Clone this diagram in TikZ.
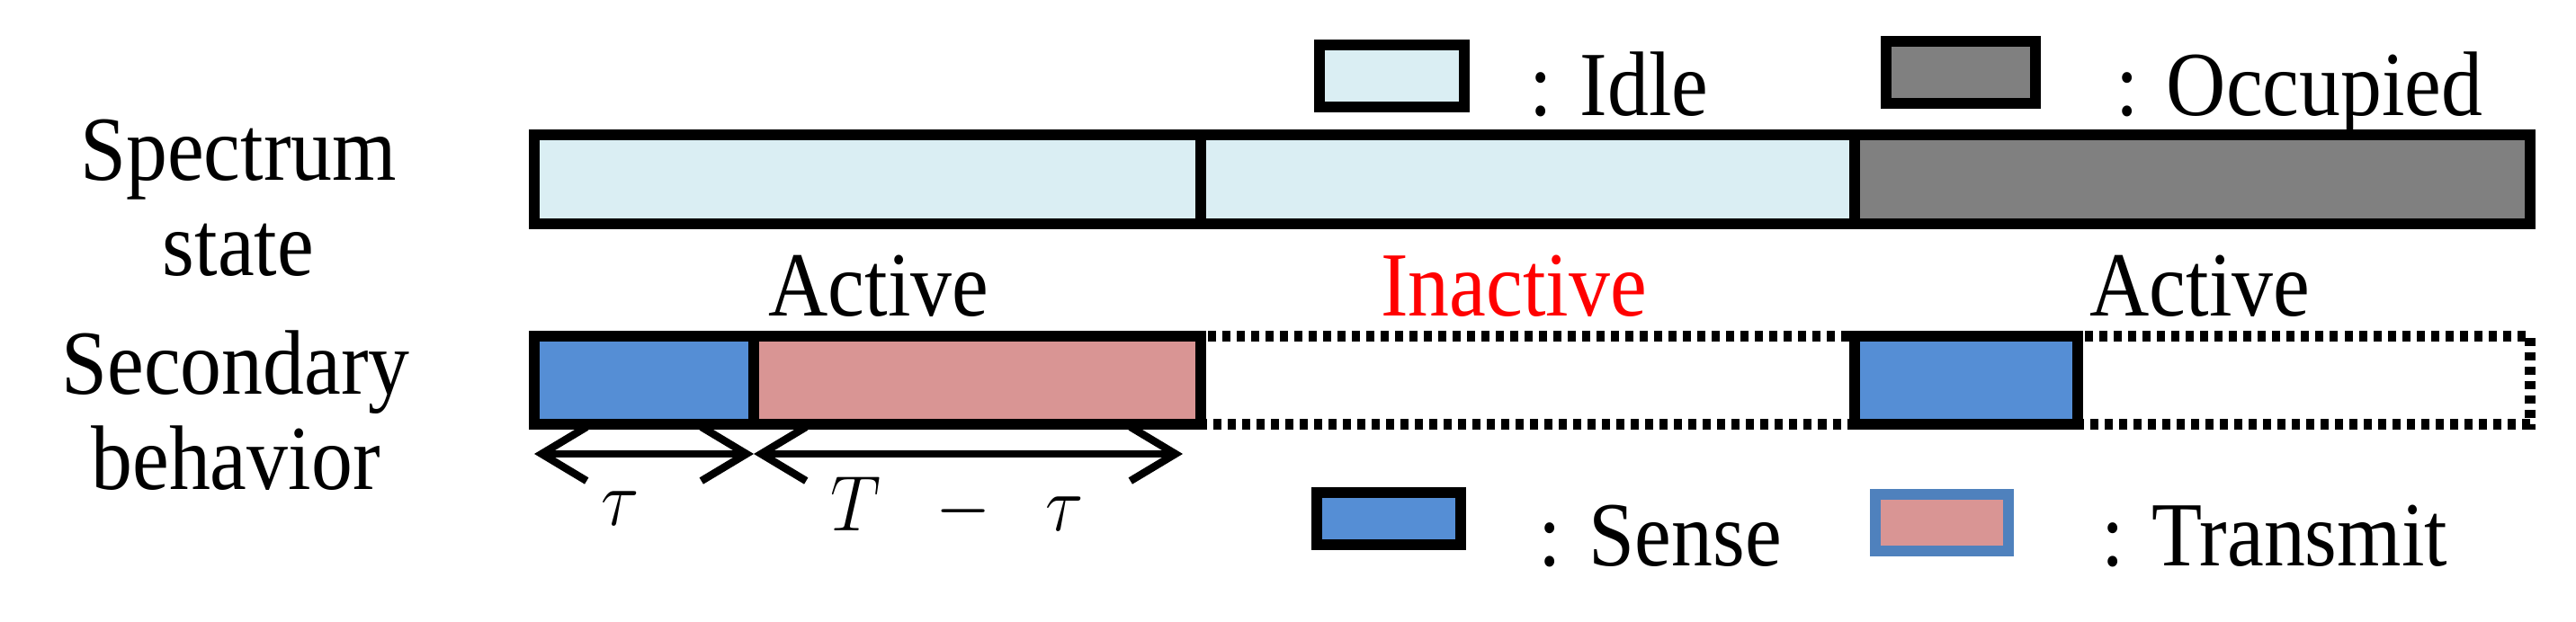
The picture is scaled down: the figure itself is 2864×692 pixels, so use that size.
\documentclass[tikz,border=0pt]{standalone}
\usepackage{fontspec}
\setmainfont{Liberation Serif}
\usetikzlibrary{arrows.meta}
\definecolor{idle}{HTML}{DAEEF3}
\definecolor{occ}{HTML}{808080}
\definecolor{sense}{HTML}{558ED5}
\definecolor{trans}{HTML}{D99594}
\definecolor{tborder}{HTML}{4F81BD}
\begin{document}
\begin{tikzpicture}[x=0.01cm,y=-0.01cm,
  box/.style={draw=black,line width=3.6pt},
  dbox/.style={draw=black,line width=3.6pt,dash pattern=on 0.09cm off 0.07cm},
  lbl/.style={font=\fontsize{29}{32}\selectfont,inner sep=0pt,xscale=0.9,transform shape},
  arr/.style={line width=2.4pt,{Straight Barb[length=0.5cm,width=0.6cm]}-{Straight Barb[length=0.5cm,width=0.6cm]}}]
\useasboundingbox (0,0) rectangle (2864,692);
% spectrum row
\draw[box,fill=idle] (594,150) rectangle (1335,249);
\draw[box,fill=idle] (1335,150) rectangle (2062,249);
\draw[box,fill=occ] (2062,150) rectangle (2813,249);
% secondary row
\draw[dbox] (1335,374) rectangle (2062,472);
\draw[dbox] (2310,374) rectangle (2813,472);
\draw[box,fill=sense] (594,374) rectangle (838,472);
\draw[box,fill=trans] (838,374) rectangle (1335,472);
\draw[box,fill=sense] (2062,374) rectangle (2310,472);
% arrows
\coordinate (a0) at (594,505);
\coordinate (a1) at (838,505);
\coordinate (a2) at (1315,505);
\draw[arr] (a0) -- (a1);
\draw[arr] (a1) -- (a2);
\node[lbl] (tau) at (690,566) {$\tau$};
\node[lbl] (Tt) at (1064,564) {$T\;\;-\;\;\tau$};
% row labels
\node[lbl] (s1) at (265,178) {Spectrum};
\node[lbl] (s2) at (265,278) {state};
\node[lbl] (b1) at (262,414) {Secondary};
\node[lbl] (b2) at (262,510) {behavior};
\node[lbl] (act1) at (977,318) {Active};
\node[lbl,text=red] (inact) at (1683,318) {Inactive};
\node[lbl] (act2) at (2446,318) {Active};
% legend
\draw[box,fill=idle] (1467,50) rectangle (1628,119);
\node[lbl,anchor=west] (li) at (1700,94) {: Idle};
\draw[box,fill=occ] (2097,46) rectangle (2263,115);
\node[lbl,anchor=west] (lo) at (2352,104) {: Occupied};
\draw[box,fill=sense] (1464,548) rectangle (1624,606);
\node[lbl,anchor=west] (ls) at (1710,596) {: Sense};
\draw[draw=tborder,line width=3.6pt,fill=trans] (2085,550) rectangle (2233,613);
\node[lbl,anchor=west] (lt) at (2336,596) {: Transmit};
\end{tikzpicture}
\end{document}
